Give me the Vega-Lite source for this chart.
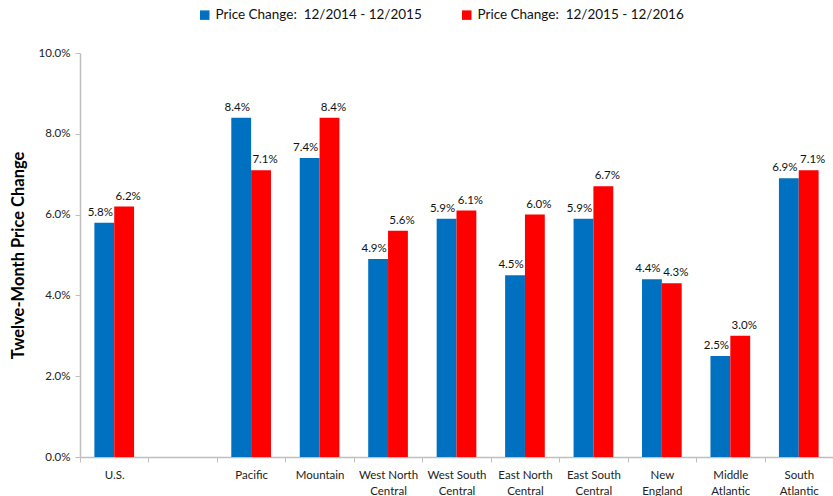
{
  "$schema": "https://vega.github.io/schema/vega-lite/v6.json",
  "width": 753,
  "height": 404,
  "autosize": {"type": "none"},
  "padding": {"left": 80, "top": 53, "right": 0, "bottom": 39},
  "background": "white",
  "config": {
    "view": {"stroke": null},
    "font": "Lato",
    "axis": {"labelFont": "Lato", "titleFont": "Lato"},
    "legend": {"labelFont": "Lato"}
  },
  "data": {
    "values": [
      {"region": "U.S.", "period": "Price Change:\u00a0 12/2014 - 12/2015", "value": 0.058},
      {"region": "U.S.", "period": "Price Change:\u00a0 12/2015 - 12/2016", "value": 0.062},
      {"region": "Pacific", "period": "Price Change:\u00a0 12/2014 - 12/2015", "value": 0.084},
      {"region": "Pacific", "period": "Price Change:\u00a0 12/2015 - 12/2016", "value": 0.071},
      {"region": "Mountain", "period": "Price Change:\u00a0 12/2014 - 12/2015", "value": 0.074},
      {"region": "Mountain", "period": "Price Change:\u00a0 12/2015 - 12/2016", "value": 0.084},
      {"region": "West North Central", "period": "Price Change:\u00a0 12/2014 - 12/2015", "value": 0.049},
      {"region": "West North Central", "period": "Price Change:\u00a0 12/2015 - 12/2016", "value": 0.056},
      {"region": "West South Central", "period": "Price Change:\u00a0 12/2014 - 12/2015", "value": 0.059},
      {"region": "West South Central", "period": "Price Change:\u00a0 12/2015 - 12/2016", "value": 0.061},
      {"region": "East North Central", "period": "Price Change:\u00a0 12/2014 - 12/2015", "value": 0.045},
      {"region": "East North Central", "period": "Price Change:\u00a0 12/2015 - 12/2016", "value": 0.060},
      {"region": "East South Central", "period": "Price Change:\u00a0 12/2014 - 12/2015", "value": 0.059},
      {"region": "East South Central", "period": "Price Change:\u00a0 12/2015 - 12/2016", "value": 0.067},
      {"region": "New England", "period": "Price Change:\u00a0 12/2014 - 12/2015", "value": 0.044},
      {"region": "New England", "period": "Price Change:\u00a0 12/2015 - 12/2016", "value": 0.043},
      {"region": "Middle Atlantic", "period": "Price Change:\u00a0 12/2014 - 12/2015", "value": 0.025},
      {"region": "Middle Atlantic", "period": "Price Change:\u00a0 12/2015 - 12/2016", "value": 0.030},
      {"region": "South Atlantic", "period": "Price Change:\u00a0 12/2014 - 12/2015", "value": 0.069},
      {"region": "South Atlantic", "period": "Price Change:\u00a0 12/2015 - 12/2016", "value": 0.071}
    ]
  },
  "encoding": {
    "x": {
      "field": "region",
      "type": "nominal",
      "sort": null,
      "scale": {
        "domain": ["U.S.", " ", "Pacific", "Mountain", "West North Central", "West South Central", "East North Central", "East South Central", "New England", "Middle Atlantic", "South Atlantic"],
        "paddingInner": 0,
        "paddingOuter": 0
      },
      "axis": {
        "title": null,
        "labelAngle": 0,
        "labelFontSize": 11.5,
        "labelColor": "#222222",
        "labelPadding": 7,
        "labelLineHeight": 16,
        "labelBaseline": "top",
        "tickBand": "extent",
        "tickSize": 5,
        "tickColor": "#bfbfbf",
        "domainColor": "#bfbfbf",
        "domainWidth": 1.5,
        "labelExpr": "indexof(datum.label,' ')>0 ? [slice(datum.label,0,lastindexof(datum.label,' ')), slice(datum.label,lastindexof(datum.label,' ')+1)] : datum.label"
      }
    },
    "xOffset": {
      "field": "period",
      "type": "nominal",
      "scale": {"paddingOuter": 0.725, "paddingInner": 0}
    },
    "y": {
      "field": "value",
      "type": "quantitative",
      "scale": {"domain": [0, 0.1], "nice": false},
      "axis": {
        "title": "Twelve-Month Price Change",
        "titleFontSize": 16.5,
        "titleFontWeight": "bold",
        "titleColor": "#000000",
        "titlePadding": 12,
        "format": ".1%",
        "values": [0, 0.02, 0.04, 0.06, 0.08, 0.1],
        "grid": false,
        "labelFontSize": 11.5,
        "labelColor": "#222222",
        "labelPadding": 5,
        "tickSize": 5,
        "tickColor": "#bfbfbf",
        "domainColor": "#bfbfbf",
        "domainWidth": 1.5
      }
    }
  },
  "layer": [
    {
      "mark": {"type": "bar"},
      "encoding": {
        "color": {
          "field": "period",
          "type": "nominal",
          "scale": {"range": ["#0070C0", "#FF0000"]},
          "legend": {
            "title": null,
            "orient": "none",
            "direction": "horizontal",
            "legendX": 118,
            "legendY": -45,
            "symbolType": "square",
            "symbolSize": 90,
            "symbolStrokeWidth": 0,
            "labelFontSize": 13.5,
            "labelColor": "#111111",
            "labelLimit": 400,
            "columnPadding": 38,
            "symbolOffset": 0,
            "labelOffset": 4
          }
        }
      }
    },
    {
      "transform": [{"filter": "indexof(datum.period, '2014') > 0"}],
      "mark": {"type": "text", "baseline": "bottom", "dy": -5, "dx": -4, "fontSize": 11.5, "color": "#111111"},
      "encoding": {
        "text": {"field": "value", "type": "quantitative", "format": ".1%"}
      }
    },
    {
      "transform": [{"filter": "indexof(datum.period, '2014') < 0"}],
      "mark": {"type": "text", "baseline": "bottom", "dy": -5, "dx": 4, "fontSize": 11.5, "color": "#111111"},
      "encoding": {
        "text": {"field": "value", "type": "quantitative", "format": ".1%"}
      }
    }
  ]
}
